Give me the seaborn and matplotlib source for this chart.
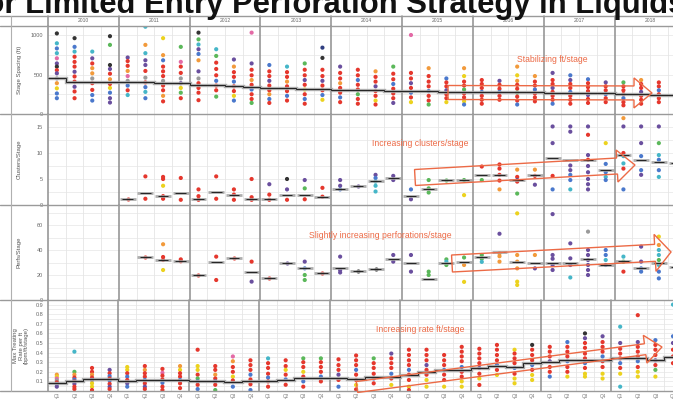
import numpy as np
import pandas as pd
import matplotlib
matplotlib.use("Agg")
import matplotlib.pyplot as plt
import seaborn as sns
from matplotlib.lines import Line2D
from matplotlib.patches import Polygon

# ---------------- data ----------------
years = [2010, 2011, 2012, 2013, 2014, 2015, 2016, 2017, 2018]
quarters = ["Q1", "Q2", "Q3", "Q4"]
quarter_labels = [f"{y} {q}" for y in years for q in quarters]

# operator colour codes
op_colors = {"R": "#e5372d", "B": "#4a78cc", "P": "#6a4f9e", "N": "#2f3e80",
             "G": "#5bb85a", "Y": "#ecd21e", "O": "#f29a3b", "T": "#45b6c8",
             "K": "#333333", "M": "#e36aa6", "A": "#9a9a9a"}

# Stage spacing (ft)
spacing = [
    [1020, 895, 830, 770, 705, 640, 600, 555, 515, 450, 390, 325, 260, 200],
    [960, 850, 790, 725, 660, 600, 535, 475, 410, 345, 285, 200],
    [790, 705, 640, 580, 515, 450, 390, 305, 240, 170],
    [985, 875, 620, 570, 510, 440, 380, 330, 270, 200, 145],
    [715, 670, 610, 545, 480, 420, 360, 300, 240],
    [1105, 875, 770, 680, 620, 545, 460, 400, 340, 280, 200],
    [960, 745, 680, 600, 540, 480, 420, 360, 300, 230, 160],
    [850, 660, 600, 520, 450, 390, 330, 270, 200],
    [1030, 945, 880, 820, 760, 680, 540, 450, 390, 330, 270, 175],
    [820, 735, 650, 570, 490, 420, 360, 300, 220],
    [690, 600, 530, 470, 410, 350, 290, 230, 170],
    [1030, 640, 560, 490, 430, 370, 310, 250, 190, 140],
    [620, 540, 480, 420, 360, 300, 250, 190, 140],
    [600, 530, 470, 410, 350, 290, 230, 170],
    [640, 560, 490, 430, 370, 310, 250, 190, 130],
    [840, 710, 560, 480, 420, 360, 300, 240, 180],
    [600, 520, 450, 390, 330, 270, 210, 150],
    [560, 490, 430, 370, 310, 250, 190, 130],
    [540, 470, 410, 350, 290, 230, 170, 120],
    [600, 510, 440, 380, 320, 260, 200, 140],
    [1000, 520, 450, 390, 330, 270, 210, 150],
    [580, 480, 410, 350, 290, 230, 170, 120],
    [450, 400, 350, 300, 250, 200, 150],
    [580, 480, 410, 360, 310, 260, 210, 160, 120],
    [430, 380, 330, 280, 230, 180, 130],
    [420, 370, 320, 280, 230, 180],
    [600, 490, 420, 370, 320, 270, 220, 170, 120],
    [480, 410, 360, 310, 260, 210, 160],
    [520, 430, 380, 330, 280, 230, 180, 130],
    [490, 430, 380, 330, 280, 230, 180, 130],
    [440, 390, 340, 290, 240, 190, 140],
    [400, 350, 300, 250, 200, 150],
    [400, 350, 300, 250, 200, 150, 110],
    [430, 380, 330, 280, 230, 180, 130],
    [400, 350, 300, 250, 200, 150],
    [380, 330, 280, 230, 180, 130],
]
spacing_ops = [
    "KTBTMPKRPAOYBB", "KBTRRRPRRPRR", "TPROOARRBB", "KGKPRORYBPP", "PRROMABRT",
    "TOTPPRARBTB", "YOBRRRARROR", "GMRRAPYGR", "KGTPBOPARRRR", "TGRRRBRRG",
    "PORRBRRYB", "MPRRORBRRG", "BRRPRROBR", "TRRORRBR", "GRRPRYRBR",
    "NKRRPRRBY", "PRRORRBR", "RRBRRGRR", "ORRPRRYR", "GRRBRRRP",
    "MRRPRBRY", "ORRRBRRG", "BRRPRRY", "OYRRGRRYB", "RRRBRRR",
    "PRRBRR", "OYORRGRRB", "ORRBRRR", "PRRPRRRB", "BPRRBRRR",
    "BRRRPRR", "PRRBRR", "GRRRBRR", "ORRPRRR", "RRBRRR", "GBRRRB",
]
spacing_median = [450, 410, 405, 405, 400, 400, 395, 390, 370, 365, 355, 345,
                  335, 325, 320, 315, 310, 300, 300, 295, 290, 285, 280, 280,
                  280, 280, 275, 275, 270, 265, 265, 260, 255, 250, 245, 240]

# Clusters per stage
clusters = [
    [], [], [], [],
    [1.2], [5.5, 1.2], [5.4, 5.0, 3.7, 1.7, 1.2], [5.2, 1.0],
    [3.0, 1.7, 1.0], [5.5, 1.2], [3.0, 2.0, 1.0], [5.0, 1.5, 1.0],
    [4.0, 2.0, 1.0], [5.0, 3.0, 1.0], [4.8, 3.2, 1.1], [3.3, 1.6],
    [4.8, 3.7, 3.0], [3.7], [5.8, 5.2, 4.5, 3.7, 2.6], [5.6, 4.8],
    [3.0, 1.1], [4.8, 3.2, 2.4], [4.9], [4.8, 1.9],
    [7.4, 4.8], [7.8, 7.0, 5.8, 4.7, 3.0], [6.8, 5.4, 4.8, 4.5, 2.2], [6.8, 5.6, 3.9],
    [15.1, 11.9, 5.6, 3.0], [15.1, 14.1, 7.6, 6.7, 5.8, 4.8, 3.0],
    [15.1, 13.5, 9.6, 8.7, 7.5, 6.3, 5.0, 4.0, 3.0], [11.9, 7.9, 6.3, 5.4, 4.8],
    [16.7, 15.1, 10.0, 9.4, 8.0, 7.0, 3.0], [15.1, 11.9, 9.4, 6.7, 5.8],
    [15.1, 11.9, 9.6, 8.7, 6.7, 5.4], [15.1, 10.0, 8.0],
]
clusters_ops = [
    "", "", "", "",
    "R", "RR", "RRYRR", "RR",
    "RRR", "RR", "RRR", "RRR",
    "PRR", "KPR", "PGR", "RR",
    "PPB", "P", "PBTTT", "PP",
    "BP", "GGG", "G", "GY",
    "RG", "RRRRO", "ORPRG", "ORP",
    "PPRB", "PPPPBBT", "PRPRPPPPP", "YBBTB",
    "OPRTTRB", "PPBBP", "PGTBBT", "PTB",
]
clusters_median = [None, None, None, None,
                   1.2, 2.3, 1.7, 2.3, 1.2, 2.5, 2.0, 1.2,
                   1.2, 2.0, 1.9, 1.6, 3.1, 3.7, 4.6, 5.1,
                   1.7, 3.1, 4.9, 4.8, 5.8, 5.8, 4.8, 5.8,
                   9.0, 8.7, 8.7, 6.7, 9.7, 8.7, 8.3, 8.0]

# Perforations per stage
perfs = [
    [], [], [], [],
    [], [34.4], [44.6, 34.4, 32.0, 24.0], [32.5, 31.0],
    [20.0], [34.7, 16.0], [33.6], [30.7, 14.7],
    [17.3], [29.3], [30.7, 25.3, 20.0, 16.0], [21.3],
    [34.7, 24.0, 22.0], [23.2], [24.8], [36.0, 30.7],
    [36.0, 22.7], [22.7, 20.0], [32.5, 30.7, 28.0], [34.0, 28.0, 14.5],
    [36.0, 33.0, 30.5], [53.0, 37.3, 35.0, 30.7], [69.3, 36.0, 30.7, 25.3, 14.7, 12.0], [36.0, 25.3],
    [68.7, 36.0, 33.0, 28.0, 24.0], [45.3, 33.3, 28.0, 18.0],
    [54.7, 40.0, 36.0, 32.0, 28.0, 24.0, 20.0], [40.0, 36.0, 32.0, 28.0],
    [34.7, 30.7, 22.7], [42.7, 30.7, 25.3, 22.7],
    [50.7, 44.0, 40.0, 36.0, 32.0, 28.0, 22.7, 17.3], [37.3, 26.7],
]
perfs_ops = [
    "", "", "", "",
    "", "R", "ORRY", "RR",
    "R", "RR", "R", "RP",
    "R", "P", "PBGG", "R",
    "PPP", "K", "K", "PP",
    "PP", "GG", "GTG", "GOY",
    "GGT", "POOO", "YOOOYY", "OP",
    "PPPPP", "PPPT", "APPPPPP", "BBTB",
    "TGR", "PPBB", "YOTTGTBB", "GB",
]
perfs_median = [None, None, None, None,
                None, 34.4, 32.0, 31.2, 20.0, 30.7, 33.6, 22.7,
                17.3, 29.3, 25.3, 21.3, 25.3, 23.2, 24.8, 32.5,
                29.9, 16.8, 29.9, 30.7, 34.1, 38.7, 30.7, 29.9,
                29.9, 29.9, 32.5, 28.0, 31.2, 25.3, 29.3, 26.7]

# Max rate per ft per stage
rate = [
    [0.17, 0.15, 0.13, 0.11, 0.09, 0.07, 0.045],
    [0.41, 0.20, 0.17, 0.14, 0.12, 0.10, 0.075, 0.045, 0.02],
    [0.24, 0.20, 0.17, 0.14, 0.115, 0.08, 0.045, 0.01],
    [0.22, 0.185, 0.155, 0.13, 0.11, 0.075, 0.045, 0.02],
    [0.25, 0.22, 0.185, 0.15, 0.115, 0.08, 0.045],
    [0.26, 0.22, 0.185, 0.15, 0.115, 0.08, 0.045, 0.02],
    [0.23, 0.19, 0.16, 0.12, 0.085, 0.045, 0.01],
    [0.26, 0.22, 0.185, 0.15, 0.115, 0.08, 0.03],
    [0.43, 0.26, 0.22, 0.17, 0.13, 0.10, 0.065, 0.02],
    [0.26, 0.22, 0.17, 0.13, 0.10, 0.065, 0.01],
    [0.36, 0.31, 0.25, 0.20, 0.15, 0.11, 0.045],
    [0.32, 0.27, 0.22, 0.17, 0.12, 0.07, 0.01],
    [0.34, 0.29, 0.24, 0.18, 0.14, 0.10, 0.045],
    [0.32, 0.26, 0.22, 0.17, 0.12, 0.065],
    [0.34, 0.30, 0.25, 0.20, 0.15, 0.10, 0.045],
    [0.34, 0.30, 0.25, 0.20, 0.15, 0.10],
    [0.33, 0.27, 0.22, 0.17, 0.115, 0.045],
    [0.37, 0.32, 0.27, 0.22, 0.17, 0.115, 0.063, 0.017],
    [0.34, 0.29, 0.24, 0.18, 0.13, 0.08],
    [0.39, 0.34, 0.29, 0.24, 0.18, 0.13, 0.063],
    [0.43, 0.375, 0.32, 0.27, 0.22, 0.17, 0.115, 0.045, 0.01],
    [0.43, 0.375, 0.32, 0.27, 0.22, 0.17, 0.115, 0.045],
    [0.375, 0.32, 0.27, 0.22, 0.17, 0.115, 0.045],
    [0.46, 0.41, 0.36, 0.31, 0.25, 0.20, 0.15, 0.10, 0.045],
    [0.44, 0.39, 0.34, 0.29, 0.24, 0.18, 0.13, 0.063],
    [0.48, 0.43, 0.375, 0.32, 0.27, 0.22, 0.167],
    [0.43, 0.39, 0.34, 0.29, 0.24, 0.18, 0.13, 0.08],
    [0.48, 0.43, 0.375, 0.32, 0.27, 0.22, 0.167, 0.115],
    [0.46, 0.41, 0.36, 0.31, 0.25, 0.20, 0.15],
    [0.51, 0.46, 0.41, 0.36, 0.31, 0.25, 0.20, 0.15],
    [0.60, 0.55, 0.50, 0.45, 0.39, 0.34, 0.29, 0.24, 0.18, 0.15],
    [0.57, 0.51, 0.46, 0.41, 0.36, 0.31, 0.25, 0.18, 0.13],
    [0.67, 0.50, 0.44, 0.39, 0.34, 0.29, 0.24, 0.18, 0.045],
    [0.79, 0.51, 0.46, 0.41, 0.36, 0.31, 0.25, 0.20, 0.15],
    [0.53, 0.48, 0.43, 0.375, 0.32, 0.27, 0.22, 0.15],
    [0.90, 0.57, 0.50, 0.43, 0.36, 0.29],
]
rate_ops = [
    "OYMARBP", "TGORBRPRR", "RRORPYYR", "PRBRBRPR", "YYRBRPB",
    "RORRBRPR", "RMRRBRR", "OYRRBRR", "RYYRGBRB", "RRORBRG",
    "MORRYRB", "RRRBRRB", "TRRRBRR", "RRYRBR", "GRRYRBR",
    "GRRRBR", "RRRPRB", "RRRBRRYR", "GRRRBR", "PRRRBRY",
    "RRRRBRRYR", "RRRPRRYY", "RRRBRRY", "RRRRBRRYY", "RRRRPRYR",
    "RRRRBRY", "YRRRBRYY", "KRRRBRYY", "RRRPRRB", "BRRRBRRY",
    "KPRRRRBRYY", "PRRRBRRYY", "TPRRRBRYT", "RPRRRBRYY", "BRRRPRGY", "TBPRRR",
]
rate_median = [0.085, 0.105, 0.12, 0.12, 0.105, 0.115, 0.115, 0.115, 0.108, 0.108,
               0.097, 0.108, 0.108, 0.115, 0.132, 0.132, 0.132, 0.122, 0.142, 0.142,
               0.167, 0.20, 0.219, 0.219, 0.236, 0.26, 0.253, 0.29, 0.306, 0.323,
               0.323, 0.323, 0.34, 0.34, 0.323, 0.358]

panel_titles = ["Stage Spacing (ft)", "Clusters/Stage", "Perfs/Stage",
                "Max Treating\nRate per ft\n(bpm/ft/stage)"]
panel_ticks = [[0, 500, 1000], [0, 5, 10, 15], [0, 20, 40, 60],
               [0.1, 0.2, 0.3, 0.4, 0.5, 0.6, 0.7, 0.8, 0.9]]
panel_ticklabels = [["0", "500", "1000"], ["0", "5", "10", "15"], ["0", "20", "40", "60"],
                    ["0.1", "0.2", "0.3", "0.4", "0.5", "0.6", "0.7", "0.8", "0.9"]]
annotations = ["Stabilizing ft/stage", "Increasing clusters/stage",
               "Slightly increasing perforations/stage", "Increasing rate ft/stage"]
title_text = "for Limited Entry Perforation Strategy in Liquids"


def make_frame(values, ops):
    rows = []
    for q, vals, codes in zip(quarter_labels, values, ops):
        for v, c in zip(vals, codes):
            rows.append({"quarter": q, "value": v, "op": c})
    return pd.DataFrame(rows)


frames = [make_frame(spacing, spacing_ops), make_frame(clusters, clusters_ops),
          make_frame(perfs, perfs_ops), make_frame(rate, rate_ops)]
medians = [spacing_median, clusters_median, perfs_median, rate_median]

# ---------------- layout ----------------
sns.set_theme(style="white")
plt.rcParams["font.family"] = ["Liberation Sans", "DejaVu Sans"]

W, H = 673, 401
fig = plt.figure(figsize=(W / 100, H / 100), dpi=100)
fig.patch.set_facecolor("white")


def fx(x):
    return x / W


def fy(y):
    return 1 - y / H


X0 = 48
XMIN, XMAX = -0.5, 34.8
panel_px = [(26, 114), (114, 205), (205, 300), (300, 391)]
ylims = [(0, 1114), (0, 17.5), (0, 76), (0, 0.948)]
minor_steps = [250, 2.5, 10, 0.05]
year_bounds = [-0.5 + 4 * k for k in range(10)]
quarter_bounds = [b + 0.5 for b in range(36) if (b + 0.5 + 0.5) % 4 != 0]

axes = []
for i, (top, bot) in enumerate(panel_px):
    ax = fig.add_axes([fx(X0), fy(bot), (W - X0) / W, (bot - top) / H])
    sns.stripplot(data=frames[i], x="quarter", y="value", hue="op", order=quarter_labels,
                  palette=op_colors, jitter=False, size=3.0, linewidth=0,
                  legend=False, ax=ax, zorder=3)
    ax.set_xlim(XMIN, XMAX)
    ax.set_ylim(*ylims[i])
    ax.set_xlabel("")
    ax.set_ylabel("")
    for s in ax.spines.values():
        s.set_visible(False)
    ax.set_yticks(panel_ticks[i])
    ax.set_yticklabels(panel_ticklabels[i])
    ax.tick_params(axis="y", length=0, pad=3.5, labelsize=4, labelcolor="#666666")
    ax.set_yticks(np.arange(0, ylims[i][1], minor_steps[i]), minor=True)
    ax.grid(False)
    ax.yaxis.grid(True, which="both", color="#e6e6e6", lw=0.5, zorder=0)
    ax.set_axisbelow(True)
    for b in quarter_bounds:
        ax.axvline(b, color="#e0e0e0", lw=0.5, zorder=0.5)
    for b in year_bounds:
        ax.axvline(b, color="#8e8e8e", lw=1.1, zorder=1, clip_on=False)

    med = medians[i]
    xs = np.arange(36)
    if i in (0, 3):
        ax.stairs(med, edges=np.arange(-0.5, 36.5, 1), baseline=None,
                  color="#a0a0a0", lw=2.4, alpha=0.85, zorder=4)
        ax.stairs(med, edges=np.arange(-0.5, 36.5, 1), baseline=None,
                  color="#222222", lw=0.7, zorder=5)
    else:
        for x, m in zip(xs, med):
            if m is None:
                continue
            ax.hlines(m, x - 0.45, x + 0.45, color="#a0a0a0", lw=2.0, alpha=0.85, zorder=4)
            ax.hlines(m, x - 0.3, x + 0.3, color="#222222", lw=0.7, zorder=5)

    if i < 3:
        ax.set_xticks([])
    else:
        ax.set_xticks(range(36))
        ax.set_xticklabels([q for _ in years for q in quarters])
        ax.tick_params(axis="x", length=0, pad=2.5, labelsize=3.3, labelcolor="#777777")
    ax.set_facecolor("none")
    axes.append(ax)

    # y label in the left column
    cy = (top + bot) / 2
    fig.text(fx(19 if i < 3 else 21), fy(cy), panel_titles[i], rotation=90, ha="center",
             va="center", fontsize=4.3, color="#555555", linespacing=1.0)

# header row with years
hax = fig.add_axes([fx(X0), fy(26), (W - X0) / W, 10.5 / H])
hax.set_xlim(XMIN, XMAX)
hax.set_ylim(0, 1)
hax.axis("off")
for b in year_bounds:
    hax.axvline(b, color="#8e8e8e", lw=1.1, clip_on=False)
for k, y in enumerate(years):
    hax.text(1.5 + 4 * k, 0.5, str(y), ha="center", va="center", fontsize=3.6, color="#666666")

# table lines
for y in [15.5, 26, 114, 205, 300, 391]:
    fig.add_artist(Line2D([0, 1], [fy(y), fy(y)], transform=fig.transFigure,
                          color="#9a9a9a", lw=1.0))
fig.add_artist(Line2D([fx(11), fx(11)], [fy(15.5), fy(391)], transform=fig.transFigure,
                      color="#b0b0b0", lw=0.8))

# title (cropped at top like the reference)
fig.text(fx(-25), fy(12.5), title_text, fontsize=22.3, fontweight="bold",
         ha="left", va="baseline", color="#111111")

# annotations and outline arrows
acol = "#ec6a46"
ann_pos = [(552, 60), (420, 143), (380, 235), (420, 330)]
for t, (x, y) in zip(annotations, ann_pos):
    fig.text(fx(x), fy(y), t, ha="center", va="center", fontsize=6.2, color=acol)


def arrow_outline(x0, y0, x1, y1, bw, hw, hl):
    d = np.array([x1 - x0, y1 - y0], float)
    d /= np.hypot(*d)
    n = np.array([-d[1], d[0]])
    s = np.array([x0, y0], float)
    tip = np.array([x1, y1], float)
    base = tip - d * hl
    pts = [s + n * bw / 2, base + n * bw / 2, base + n * hw / 2, tip,
           base - n * hw / 2, base - n * bw / 2, s - n * bw / 2]
    pts = [(fx(p[0]), fy(p[1])) for p in pts]
    fig.add_artist(Polygon(pts, closed=True, fill=False, edgecolor=acol, lw=1.0,
                           transform=fig.transFigure, zorder=10))


arrow_outline(448, 92.5, 652, 93, 14, 30, 18)
arrow_outline(415, 177.5, 635, 165, 16, 32, 18)
arrow_outline(452, 263.5, 671, 252, 17, 37, 16)
arrow_outline(357, 387, 662, 347, 11, 28, 17)

fig.savefig("out.png", dpi=100, facecolor="white")
